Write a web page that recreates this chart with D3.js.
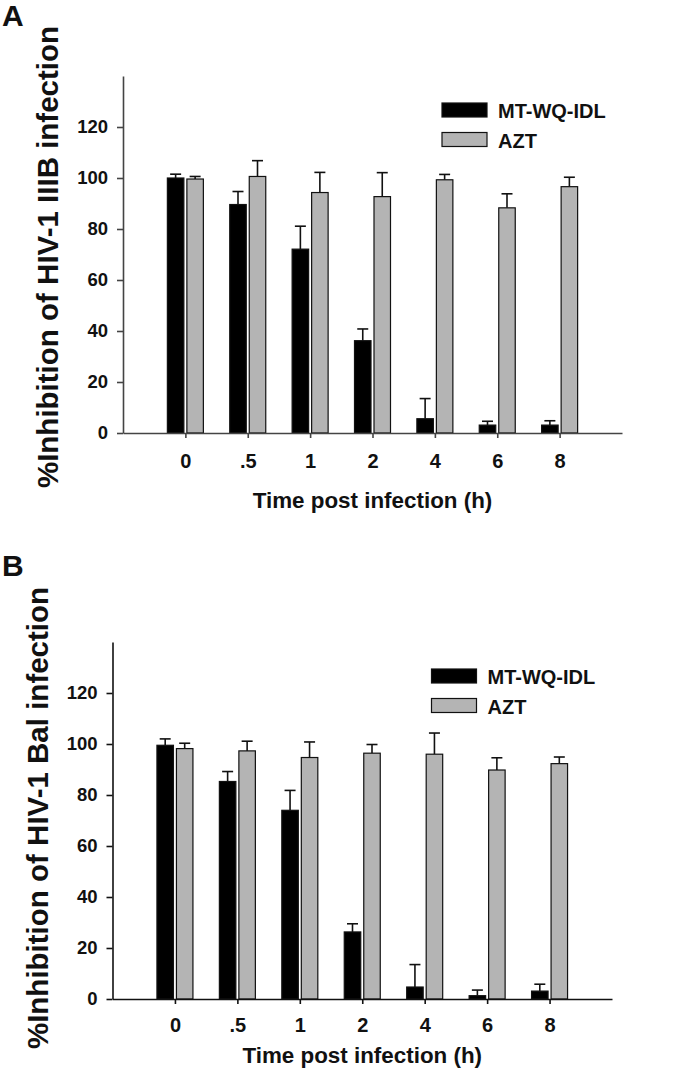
<!DOCTYPE html>
<html>
<head>
<meta charset="utf-8">
<script src="https://cdn.jsdelivr.net/npm/d3@7"></script>
<style>
  html, body { margin: 0; padding: 0; background: #fff; }
  svg { display: block; }
  text { font-family: "Liberation Sans", Arial, sans-serif; font-weight: bold; fill: #111; }
</style>
</head>
<body>
<svg id="chart" width="680" height="1083"></svg>
<script>
// ---- data ----
const timeLabels = ["0", ".5", "1", "2", "4", "6", "8"];
const yTickValues = [0, 20, 40, 60, 80, 100, 120];
const seriesNames = ["MT-WQ-IDL", "AZT"];
const seriesColors = ["#000000", "#b4b4b4"];

// Panel A: HIV-1 IIIB
const iiibMT     = [100.0, 89.6, 72.1, 36.2, 5.6, 3.1, 3.1];
const iiibMTErr  = [1.5, 5.1, 9.0, 4.6, 7.9, 1.5, 1.7];
const iiibAZT    = [99.6, 100.6, 94.3, 92.7, 99.3, 88.3, 96.6];
const iiibAZTErr = [1.0, 6.2, 7.9, 9.4, 2.1, 5.5, 3.7];

// Panel B: HIV-1 Bal
const balMT     = [99.5, 85.3, 74.0, 26.3, 4.7, 1.3, 3.1];
const balMTErr  = [2.5, 3.9, 7.8, 3.2, 8.8, 2.2, 2.7];
const balAZT    = [98.2, 97.3, 94.7, 96.4, 96.0, 89.8, 92.3];
const balAZTErr = [2.1, 3.8, 6.1, 3.4, 8.3, 4.8, 2.6];

const svg = d3.select("#chart");

function drawPanel(cfg) {
  const g = svg.append("g");
  const x = d3.scalePoint().domain(timeLabels).range([cfg.left, cfg.right]).padding(1);
  const y = d3.scaleLinear().domain([0, 140]).range([cfg.bottom, cfg.top]);
  const barW = 16.5, gap = 3, capW = 11;

  const series = [
    { vals: cfg.mt, errs: cfg.mtErr, color: seriesColors[0], off: -gap / 2 - barW },
    { vals: cfg.azt, errs: cfg.aztErr, color: seriesColors[1], off: gap / 2 }
  ];
  series.forEach(s => {
    const d = timeLabels.map((t, i) => ({ t, v: s.vals[i], e: s.errs[i] }));
    const eg = g.append("g").attr("stroke", "#111").attr("stroke-width", 1.6);
    eg.selectAll("line.v").data(d).join("line")
      .attr("x1", p => x(p.t) + s.off + barW / 2).attr("x2", p => x(p.t) + s.off + barW / 2)
      .attr("y1", p => y(p.v)).attr("y2", p => y(p.v + p.e));
    eg.selectAll("line.c").data(d).join("line")
      .attr("x1", p => x(p.t) + s.off + barW / 2 - capW / 2).attr("x2", p => x(p.t) + s.off + barW / 2 + capW / 2)
      .attr("y1", p => y(p.v + p.e)).attr("y2", p => y(p.v + p.e));
    g.append("g").selectAll("rect").data(d).join("rect")
      .attr("x", p => x(p.t) + s.off)
      .attr("y", p => y(p.v))
      .attr("width", barW)
      .attr("height", p => y(0) - y(p.v))
      .attr("fill", s.color)
      .attr("stroke", "#111")
      .attr("stroke-width", 1.2);
  });

  const yAx = g.append("g").attr("transform", `translate(${cfg.left},0)`)
    .call(d3.axisLeft(y).tickValues(yTickValues).tickSize(6).tickPadding(9).tickSizeOuter(0));
  yAx.select(".domain").attr("stroke", cfg.axisColor).attr("stroke-width", 1.6);
  yAx.selectAll(".tick line").attr("stroke", cfg.axisColor).attr("stroke-width", 1.6);
  yAx.selectAll(".tick text").attr("font-size", 18.5).attr("font-family", "Liberation Sans, Arial, sans-serif")
    .attr("font-weight", "bold").attr("fill", "#111");

  const xAx = g.append("g").attr("transform", `translate(0,${cfg.bottom})`)
    .call(d3.axisBottom(x).tickSize(5).tickPadding(0).tickSizeOuter(0));
  xAx.select(".domain").attr("stroke", cfg.axisColor).attr("stroke-width", 1.6);
  xAx.selectAll(".tick line").attr("stroke", cfg.axisColor).attr("stroke-width", 1.6);
  xAx.selectAll(".tick text").attr("font-size", 20).attr("font-family", "Liberation Sans, Arial, sans-serif")
    .attr("font-weight", "bold").attr("fill", "#111")
    .attr("dy", null).attr("y", cfg.xTickBaseline);

  g.append("text").attr("x", (cfg.left + cfg.right) / 2).attr("y", cfg.titleBaseline)
    .attr("text-anchor", "middle").attr("font-size", 22.4).text("Time post infection (h)");
  g.append("text").attr("transform", `translate(${cfg.ylabX},${cfg.ylabY}) rotate(-90)`)
    .attr("text-anchor", "middle").attr("font-size", 29.5).text(cfg.yTitle);

  g.append("text").attr("x", cfg.letterX).attr("y", cfg.letterY).attr("font-size", cfg.letterSize).text(cfg.letter);

  const lx = cfg.left + 319, ly = cfg.top + 27;
  seriesNames.forEach((name, i) => {
    g.append("rect").attr("x", lx).attr("y", ly + i * 29.5).attr("width", 45).attr("height", 14)
      .attr("fill", seriesColors[i]).attr("stroke", "#111").attr("stroke-width", 1.2);
    g.append("text").attr("x", lx + 56).attr("y", ly + i * 29.5 + 15)
      .attr("font-size", 20).text(name);
  });
}

drawPanel({
  left: 123, right: 622, top: 76, bottom: 433,
  mt: iiibMT, mtErr: iiibMTErr, azt: iiibAZT, aztErr: iiibAZTErr,
  axisColor: "#444", xTickBaseline: 35, titleBaseline: 508,
  ylabX: 58, ylabY: 257, yTitle: "%Inhibition of HIV-1 IIIB infection",
  letter: "A", letterX: 2, letterY: 26, letterSize: 30
});

drawPanel({
  left: 112.5, right: 612, top: 642, bottom: 999,
  mt: balMT, mtErr: balMTErr, azt: balAZT, aztErr: balAZTErr,
  axisColor: "#111", xTickBaseline: 33, titleBaseline: 1063,
  ylabX: 48, ylabY: 818, yTitle: "%Inhibition of HIV-1 Bal infection",
  letter: "B", letterX: 2, letterY: 576, letterSize: 30
});
</script>
</body>
</html>
